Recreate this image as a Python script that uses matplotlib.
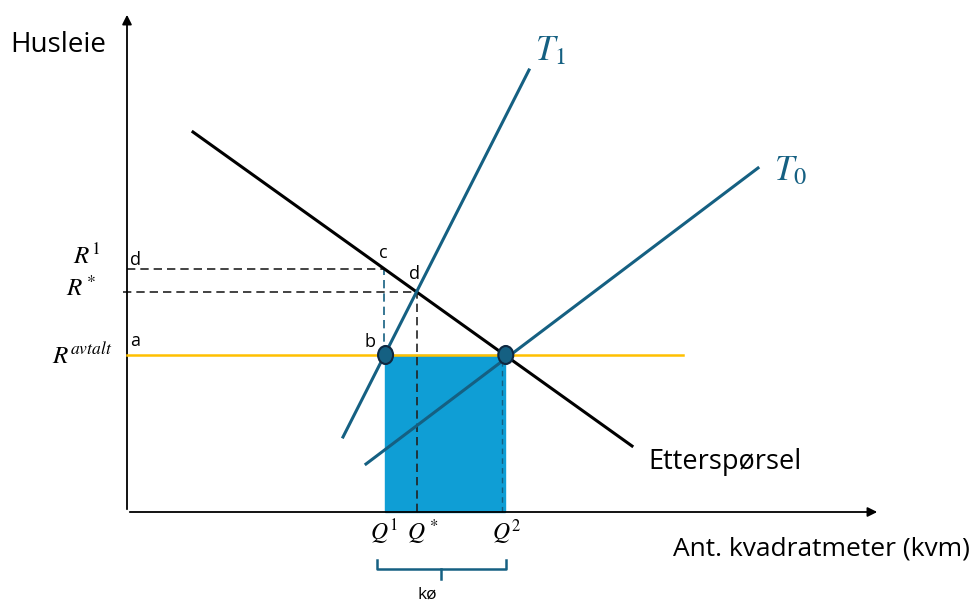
import numpy as np
from matplotlib import pyplot as plt
from matplotlib.patches import Rectangle, Ellipse

plt.rcParams['font.family'] = ['Open Sans', 'DejaVu Sans']
plt.rcParams['mathtext.fontset'] = 'stix'

# linjer som (x0, y0, x1, y1), enheter langs aksene
demand = [66, 380, 505, 66]      # Etterspørsel
t1 = [216, 75, 402, 442]         # T_1 (bratt tilbud)
t0 = [239, 48, 631, 344]         # T_0
r_avtalt = 157                   # avtalt husleie
yellow_end = 556
x_axis_end = 753
y_axis_end = 500

teal = '#156082'
light_blue = '#0F9ED5'
gold = '#FFC000'


def line_at_x(l, x):
    x0, y0, x1, y1 = l
    return y0 + (y1 - y0) / (x1 - x0) * (x - x0)


def line_at_y(l, y):
    x0, y0, x1, y1 = l
    return x0 + (x1 - x0) / (y1 - y0) * (y - y0)


def cross(a, b):
    ka = (a[3] - a[1]) / (a[2] - a[0])
    kb = (b[3] - b[1]) / (b[2] - b[0])
    x = (b[1] - kb * b[0] - a[1] + ka * a[0]) / (ka - kb)
    return x, line_at_x(a, x)


q1 = line_at_y(t1, r_avtalt)
q2 = line_at_y(demand, r_avtalt)
q_star, r_star = cross(demand, t1)
r1 = line_at_x(demand, q1)

fig = plt.figure(figsize=(9.78, 6.05), dpi=100)
ax = fig.add_axes([0, 0, 1, 1])
ax.set_xlim(-127, 851)
ax.set_ylim(-93, 512)
ax.axis('off')

# akser med piler
ax.annotate('', xy=(x_axis_end, 0), xytext=(0, 0),
            arrowprops=dict(arrowstyle='-|>', color='black', lw=1.3, mutation_scale=14))
ax.annotate('', xy=(0, y_axis_end), xytext=(0, 0),
            arrowprops=dict(arrowstyle='-|>', color='black', lw=1.3, mutation_scale=14))

# kø-området
ax.add_patch(Rectangle((q1, 0), q2 - q1, r_avtalt, color=light_blue, zorder=1))
ax.plot([q2 - 3, q2 - 3], [0, r_avtalt], ls=(0, (4, 3)), color=teal, lw=1, zorder=2)

# hjelpelinjer
ax.plot([0, q1], [r1, r1], ls=(0, (5, 3)), color='#222222', lw=1.2)
ax.plot([-4, q_star], [r_star, r_star], ls=(0, (5, 3)), color='#222222', lw=1.2)
ax.plot([q1 - 1, q1 - 1], [r_avtalt, r1], ls=(0, (5, 3)), color=teal, lw=1.2)
ax.plot([q_star, q_star], [0, r_star], ls=(0, (5, 3)), color='#222222', lw=1.2)

ax.plot([0, yellow_end], [r_avtalt, r_avtalt], color=gold, lw=1.8, zorder=3)

ax.plot(demand[0::2], demand[1::2], color='black', lw=2.2, zorder=4)
ax.plot(t1[0::2], t1[1::2], color=teal, lw=2.2, zorder=4)
ax.plot(t0[0::2], t0[1::2], color=teal, lw=2.2, zorder=4)

for qx in [q1, q2]:
    ax.add_patch(Ellipse((qx + 1, r_avtalt), 15, 18, facecolor=teal,
                         edgecolor='#0E2841', lw=1.5, zorder=5))

# tekst
ax.text(-117, 467, 'Husleie', fontsize=20, va='center', ha='left')
ax.text(521, 50, 'Etterspørsel', fontsize=19.5, va='center', ha='left')
ax.text(546, -37, 'Ant. kvadratmeter (kvm)', fontsize=19, va='center', ha='left')
ax.text(423, 461, '$T_1$', fontsize=25, color=teal, va='center', ha='center')
ax.text(663, 341, '$T_0$', fontsize=25, color=teal, va='center', ha='center')

ax.text(-27, r1 + 12, '$R^1$', fontsize=18, va='center', ha='right')
ax.text(-31, r_star + 2, '$R^*$', fontsize=18, va='center', ha='right')
ax.text(-15, r_avtalt - 2, '$R^{avtalt}$', fontsize=18, va='center', ha='right')

ax.text(3, r1 + 9, 'd', fontsize=13, va='center', ha='left')
ax.text(3, r_avtalt + 14, 'a', fontsize=13, va='center', ha='left')
ax.text(q1 - 6, r1 + 16, 'c', fontsize=13, va='center', ha='left')
ax.text(q_star - 2, r_star + 18, 'd', fontsize=13, va='center', ha='center')
ax.text(q1 - 15, r_avtalt + 13, 'b', fontsize=13, va='center', ha='center')

ax.text(q1, -20, '$Q^1$', fontsize=17, va='center', ha='center')
ax.text(q_star + 6, -20, '$Q^*$', fontsize=17, va='center', ha='center')
ax.text(q2 + 2, -20, '$Q^2$', fontsize=17, va='center', ha='center')

# klammeparentes under Q1..Q2
bx0, bx1 = q1 - 8, q2 + 1
mid = (bx0 + bx1) / 2
ax.plot([bx0, bx0, bx1, bx1], [-48, -57, -57, -48], color=teal, lw=1.8)
ax.plot([mid, mid], [-57, -67], color=teal, lw=1.8)
ax.text(mid - 14, -83, 'kø', fontsize=12.5, va='center', ha='center')

plt.savefig('out.png', dpi=100)
